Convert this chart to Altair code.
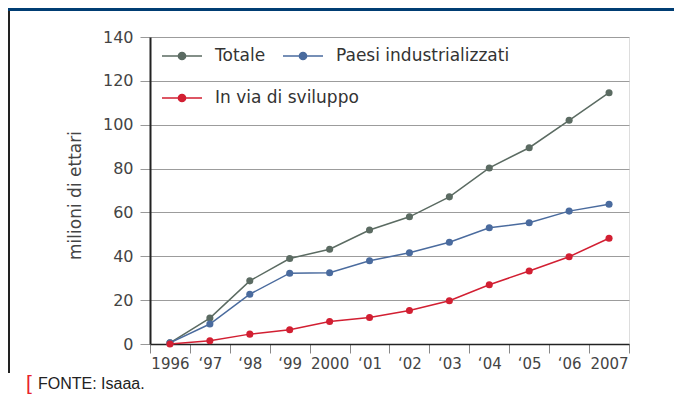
import altair as alt
import pandas as pd

# ---- data ----
anni = ["1996", "‘97", "‘98", "‘99", "2000", "‘01", "‘02", "‘03", "‘04", "‘05", "‘06", "2007"]
totale = [0.5, 11.8, 28.8, 39.0, 43.2, 52.0, 58.0, 67.1, 80.3, 89.5, 102.0, 114.6]
industrializzati = [0.5, 9.1, 22.7, 32.3, 32.5, 38.0, 41.6, 46.4, 53.0, 55.3, 60.6, 63.7]
sviluppo = [0.0, 1.5, 4.5, 6.5, 10.3, 12.1, 15.3, 19.7, 27.0, 33.3, 39.8, 48.2]
serie = ["Totale", "Paesi industrializzati", "In via di sviluppo"]
colori = ["#5b6b62", "#4a6b9e", "#d21f32"]
y_ticks = [0, 20, 40, 60, 80, 100, 120, 140]
titolo_y = "milioni di ettari"
fonte = "FONTE: Isaaa."

rows = []
for s, vals in zip(serie, [totale, industrializzati, sviluppo]):
    for a, v in zip(anni, vals):
        rows.append({"anno": a, "serie": s, "valore": v})
df = pd.DataFrame(rows)
dfA = df[df["serie"].isin(serie[:2])]
dfB = df[df["serie"].isin(serie[2:])]

W, H = 479, 307

sym_path = "M-1,0H1M0.18,0A0.18,0.18,0,1,1,-0.18,0A0.18,0.18,0,1,1,0.18,0Z"


def make_legend(lx, ly):
    return alt.Legend(
        title=None, orient="none", legendX=lx, legendY=ly,
        direction="horizontal",
        symbolType=sym_path, symbolSize=1600, symbolStrokeWidth=1.5,
        labelFont="DejaVu Sans", labelFontSize=17, labelColor="#333333",
        labelOffset=12, labelLimit=400, columnPadding=14, padding=0,
    )


x = alt.X("anno:N", sort=anni, bandPosition=0.5,
          scale=alt.Scale(type="band", paddingInner=0, paddingOuter=0),
          axis=alt.Axis(title=None, tickBand="extent", labelAngle=0,
                        labelFont="DejaVu Sans", labelFontSize=15,
                        labelColor="#444444", labelPadding=3,
                        tickSize=9, tickColor="#888888",
                        domainColor="#222222", domainWidth=1.5, grid=False))

y = alt.Y("valore:Q",
          scale=alt.Scale(domain=[0, 140], nice=False),
          axis=alt.Axis(values=y_ticks, title=titolo_y, grid=True,
                        gridColor="#9c9c9c", gridWidth=1,
                        labelFont="DejaVu Sans", labelFontSize=16,
                        labelColor="#444444", labelPadding=7,
                        tickSize=10, tickColor="#999999",
                        domainColor="#222222", domainWidth=2,
                        titleFont="DejaVu Sans", titleFontSize=17,
                        titleFontWeight="normal", titleColor="#444444",
                        titleX=-66, titleY=158))

colorA = alt.Color("serie:N", sort=serie[:2],
                   scale=alt.Scale(domain=serie[:2], range=colori[:2]),
                   legend=make_legend(11, -2))
colorB = alt.Color("serie:N",
                   scale=alt.Scale(domain=serie[2:], range=colori[2:]),
                   legend=make_legend(11, 40))


def group(data, color):
    b = alt.Chart(data)
    ln = b.mark_line(strokeWidth=1.5).encode(x=x, y=y, color=color)
    pt = b.mark_point(filled=True, size=50, opacity=1).encode(x=x, y=y, color=color)
    return alt.layer(ln, pt)


groupA = group(dfA, colorA)
groupB = group(dfB, colorB)

deco = pd.DataFrame({"t": [fonte]})
bar = alt.Chart(deco).mark_rect(color="#003d73").encode(
    x=alt.value(-142), x2=alt.value(524), y=alt.value(-29), y2=alt.value(-26))
vline = alt.Chart(deco).mark_rule(color="#222222", strokeWidth=2).encode(
    x=alt.value(-141), y=alt.value(-26), y2=alt.value(336))
bracket = alt.Chart(deco).mark_text(text="[", color="#e8232d", fontSize=21,
                                    align="left", baseline="alphabetic",
                                    font="Liberation Sans").encode(
    x=alt.value(-124), y=alt.value(353))
foot = alt.Chart(deco).mark_text(color="#222222", fontSize=16, align="left",
                                 baseline="alphabetic",
                                 font="Liberation Sans").encode(
    x=alt.value(-112), y=alt.value(352), text="t:N")

chart = alt.layer(bar, vline, groupA, groupB, bracket, foot).resolve_scale(
    color="independent"
).properties(
    width=W, height=H, padding=0
).configure_view(stroke="#333333", strokeWidth=1.5).configure(background="white")

chart.save("out.html", embed_options={"renderer": "svg", "actions": False})
